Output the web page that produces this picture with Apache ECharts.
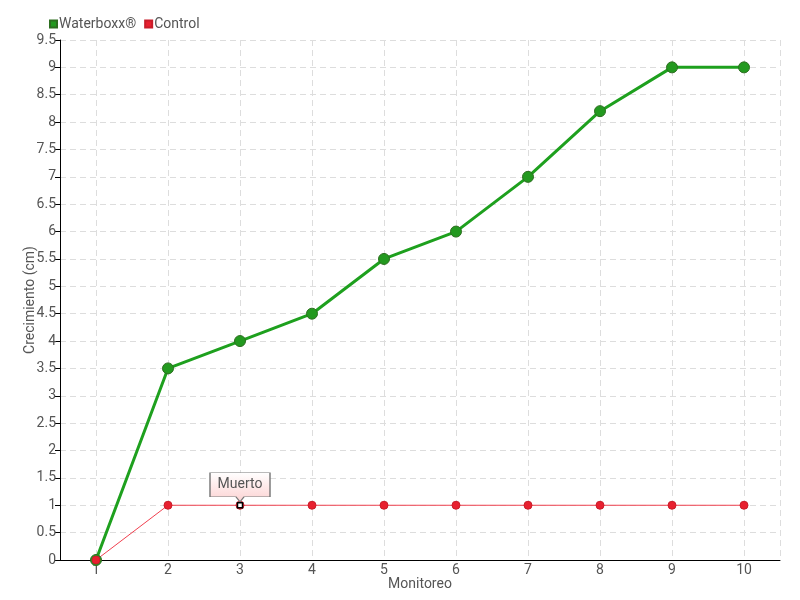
<!DOCTYPE html>
<html>
<head>
<meta charset="utf-8">
<script src="https://cdn.jsdelivr.net/npm/echarts@6/dist/echarts.min.js"></script>
<style>
  html, body { margin: 0; padding: 0; background: #fff; }
  #chart { width: 800px; height: 600px; }
</style>
</head>
<body>
<div id="chart"></div>
<script>
// 数据
let monitoreo = [1, 2, 3, 4, 5, 6, 7, 8, 9, 10];
let waterboxx = [0, 3.5, 4, 4.5, 5.5, 6, 7, 8.2, 9, 9];
let control = [0, 1, 1, 1, 1, 1, 1, 1, 1, 1];
let muertoIndex = 2; // 第3次监测
let fontFam = 'Roboto, "DejaVu Sans", sans-serif';

let myChart = echarts.init(document.getElementById('chart'));
let muertoCoord = [monitoreo[muertoIndex], control[muertoIndex]];
myChart.setOption({
  animation: false,
  textStyle: { fontFamily: fontFam },
  legend: {
    left: 44,
    top: 12,
    itemWidth: 7,
    itemHeight: 7,
    itemGap: 8,
    icon: 'rect',
    textStyle: { color: '#555', fontSize: 14, fontFamily: fontFam, padding: [0, 0, 0, -3] },
    data: ['Waterboxx®', 'Control']
  },
  grid: { left: 60, right: 20, top: 40, bottom: 40, containLabel: false },
  xAxis: {
    type: 'value',
    min: 0.5,
    max: 10.5,
    minInterval: 1,
    maxInterval: 1,
    name: 'Monitoreo',
    nameLocation: 'middle',
    nameGap: 17,
    nameMoveOverlap: false,
    nameTextStyle: { color: '#555', fontSize: 14 },
    axisLine: { lineStyle: { color: '#000' } },
    axisTick: { show: false },
    axisLabel: { color: '#555', fontSize: 14, margin: 3, showMinLabel: false, showMaxLabel: false },
    splitLine: { show: true, lineStyle: { color: '#ddd', type: [6, 4] } }
  },
  yAxis: {
    type: 'value',
    min: 0,
    max: 9.5,
    interval: 0.5,
    name: 'Crecimiento (cm)',
    nameLocation: 'middle',
    nameGap: 23,
    nameMoveOverlap: false,
    nameTextStyle: { color: '#555', fontSize: 14 },
    axisLine: { show: true, lineStyle: { color: '#000' } },
    axisTick: { show: true, length: 5, lineStyle: { color: '#000' } },
    axisLabel: { color: '#555', fontSize: 14, margin: 4 },
    splitLine: { show: true, lineStyle: { color: '#ddd', type: [6, 4] } }
  },
  series: [
    {
      name: 'Waterboxx®',
      type: 'line',
      data: monitoreo.map((m, i) => [m, waterboxx[i]]),
      color: '#1c9c1c',
      lineStyle: { width: 3, color: '#1ea01e' },
      symbol: 'circle',
      symbolSize: 11,
      itemStyle: { color: '#23991f', borderColor: '#2c6e1f', borderWidth: 1 }
    },
    {
      name: 'Control',
      type: 'line',
      data: monitoreo.map((m, i) => [m, control[i]]),
      color: '#e8283c',
      lineStyle: { width: 1, color: '#f0404f' },
      symbol: 'circle',
      symbolSize: 8,
      itemStyle: { color: '#e8202f', borderColor: '#c81d2a', borderWidth: 1 },
      markPoint: {
        data: [
          // 标注框
          {
            coord: muertoCoord,
            symbol: 'path://M0,0 H60 V24 H34 L30,29 L26,24 H0 Z',
            symbolSize: [60, 29],
            symbolOffset: [0, -18],
            itemStyle: {
              color: {
                type: 'linear', x: 0, y: 0, x2: 0, y2: 1,
                colorStops: [{ offset: 0, color: '#ffffff' }, { offset: 1, color: '#fcd2d2' }]
              },
              borderColor: '#777',
              borderWidth: 1
            },
            label: { show: true, formatter: 'Muerto', color: '#555', fontSize: 14, offset: [0, -3], fontFamily: fontFam }
          },
          // 死亡标记
          {
            coord: muertoCoord,
            symbol: 'rect',
            symbolSize: 5,
            symbolOffset: [0, 0],
            itemStyle: { color: '#fff', borderColor: '#000', borderWidth: 1.5 },
            label: { show: false }
          }
        ]
      }
    }
  ]
});
</script>
</body>
</html>
